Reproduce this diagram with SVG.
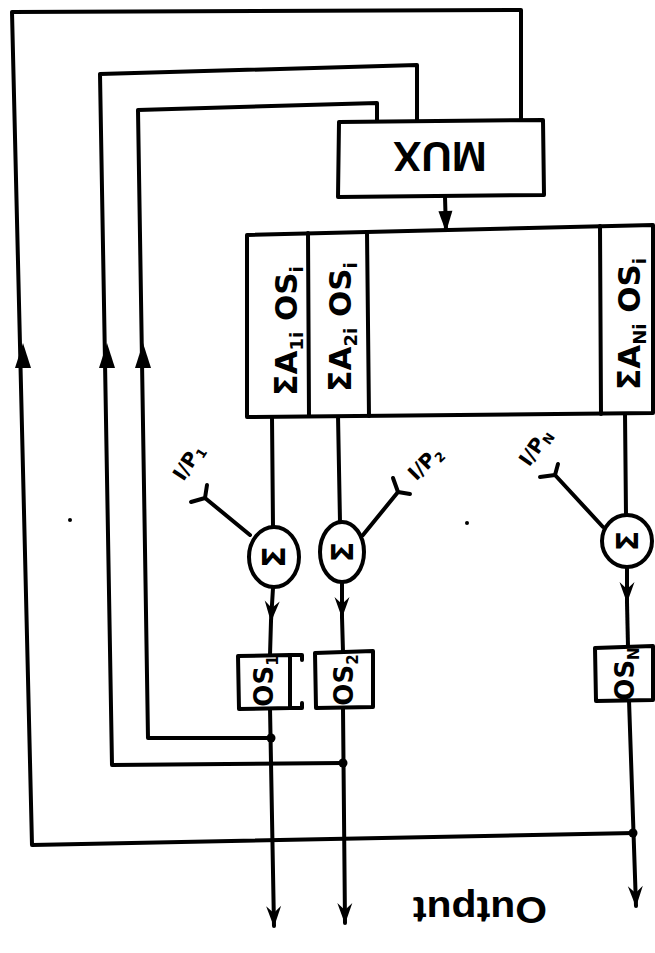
<svg xmlns="http://www.w3.org/2000/svg" width="655" height="953" viewBox="0 0 655 953">
<style>
.ln{fill:none;stroke:#000;stroke-width:4;stroke-linecap:round;stroke-linejoin:round}
.bx{fill:#fff;stroke:#000;stroke-width:4;stroke-linejoin:round}
.t{font-family:"DejaVu Sans","Liberation Sans",sans-serif;font-weight:bold;fill:#000}
.tl{font-family:"Liberation Sans",Arial,sans-serif;font-weight:bold;fill:#000}
.dot{fill:#000}
</style>
<defs>
<marker id="dn" viewBox="-21 -9 23 18" markerWidth="23" markerHeight="18" refX="0" refY="0" orient="auto" markerUnits="userSpaceOnUse">
<path d="M1,0 L-20,-7.5 L-13,0 L-20,7.5 Z" fill="#000"/>
</marker>
<marker id="tri" viewBox="-21 -8 22 16" markerWidth="22" markerHeight="16" refX="0" refY="0" orient="auto" markerUnits="userSpaceOnUse">
<path d="M1,0 L-20,-7 L-20,7 Z" fill="#000"/>
</marker>
</defs>
<rect width="655" height="953" fill="#fff"/>

<g id="connectors">
<!-- feedback loops -->
<polyline class="ln" points="521,120 521,10 12,12 32,845 634,833"/>
<polyline class="ln" points="417,120 417,65 100,74 112,765 343,763"/>
<polyline class="ln" points="377,120 377,103 138,110 148,738 271,738"/>
<!-- up arrows on loops -->
<path d="M23,343 L15,368 L31,368 Z" fill="#000"/>
<path d="M107,343 L99,368 L115,368 Z" fill="#000"/>
<path d="M143,343 L135,368 L151,368 Z" fill="#000"/>
<!-- MUX to table -->
<line class="ln" x1="445" y1="197" x2="446" y2="231" marker-end="url(#tri)"/>
<!-- column 1 -->
<line class="ln" x1="272" y1="417" x2="273" y2="527"/>
<line class="ln" x1="273" y1="588" x2="271" y2="621" marker-end="url(#dn)"/>
<line class="ln" x1="271" y1="621" x2="270" y2="655"/>
<line class="ln" x1="270" y1="708" x2="274" y2="926" marker-end="url(#dn)"/>
<!-- column 2 -->
<line class="ln" x1="338" y1="415" x2="340" y2="522"/>
<line class="ln" x1="342" y1="582" x2="342" y2="617" marker-end="url(#dn)"/>
<line class="ln" x1="342" y1="617" x2="343" y2="652"/>
<line class="ln" x1="343" y1="708" x2="345" y2="923" marker-end="url(#dn)"/>
<!-- column N -->
<line class="ln" x1="625" y1="413" x2="626" y2="515"/>
<line class="ln" x1="627" y1="567" x2="627" y2="602" marker-end="url(#dn)"/>
<line class="ln" x1="627" y1="602" x2="628" y2="647"/>
<line class="ln" x1="629" y1="700" x2="636" y2="906" marker-end="url(#dn)"/>
<!-- junction dots -->
<circle class="dot" cx="271" cy="738" r="4.5"/>
<circle class="dot" cx="343" cy="763" r="4.5"/>
<circle class="dot" cx="633" cy="833" r="4.5"/>
<!-- inputs -->
<polyline class="ln" points="250,535 205,498"/>
<polyline class="ln" points="191,502 205,498 207,485"/>
<polyline class="ln" points="363,535 398,492"/>
<polyline class="ln" points="393,478 398,492 410,494"/>
<polyline class="ln" points="603,527 555,475"/>
<polyline class="ln" points="540,477 555,475 558,464"/>
</g>

<circle class="dot" cx="70" cy="520" r="2"/>
<circle class="dot" cx="467" cy="523" r="2"/>

<g id="mux">
<polygon class="bx" points="339,122 543,120 544,195 338,197"/>
<text class="tl" x="440" y="172" font-size="42" text-anchor="middle" transform="rotate(180 440 157)">MUX</text>
</g>

<g id="table">
<polygon class="bx" points="247,235 653,225 653,413 247,417"/>
<line class="ln" x1="308" y1="233" x2="309" y2="416"/>
<line class="ln" x1="367" y1="232" x2="369" y2="416"/>
<line class="ln" x1="600" y1="226" x2="601" y2="414"/>
<text class="t" x="286" y="342" font-size="31" text-anchor="middle" transform="rotate(-90 286 331)">ΣA<tspan font-size="18" dy="6">1i</tspan><tspan dy="-6"> OS</tspan><tspan font-size="18" dy="6">i</tspan></text>
<text class="t" x="340" y="338" font-size="31" text-anchor="middle" transform="rotate(-90 340 327)">ΣA<tspan font-size="18" dy="6">2i</tspan><tspan dy="-6"> OS</tspan><tspan font-size="18" dy="6">i</tspan></text>
<text class="t" x="629" y="335" font-size="31" text-anchor="middle" transform="rotate(-90 629 324)">ΣA<tspan font-size="18" dy="6">Ni</tspan><tspan dy="-6"> OS</tspan><tspan font-size="18" dy="6">i</tspan></text>
</g>

<g id="sum1">
<ellipse class="bx" cx="274" cy="557" rx="25" ry="30"/>
<text class="t" x="274" y="568" font-size="32" text-anchor="middle" transform="rotate(-90 274 557)">Σ</text>
</g>
<g id="sum2">
<ellipse class="bx" cx="342" cy="552" rx="22" ry="30"/>
<text class="t" x="342" y="563" font-size="30" text-anchor="middle" transform="rotate(-90 342 552)">Σ</text>
</g>
<g id="sumN">
<ellipse class="bx" cx="627" cy="541" rx="25" ry="26"/>
<text class="t" x="627" y="552" font-size="30" text-anchor="middle" transform="rotate(-90 627 541)">Σ</text>
</g>

<g id="ip1">
<text class="t" x="188" y="469" font-size="20" text-anchor="middle" transform="rotate(-57 188 462)">I/P<tspan font-size="13" dy="4">1</tspan></text>
</g>
<g id="ip2">
<text class="t" x="425" y="470" font-size="20" text-anchor="middle" transform="rotate(-45 425 463)">I/P<tspan font-size="13" dy="4">2</tspan></text>
</g>
<g id="ipN">
<text class="t" x="535" y="454" font-size="20" text-anchor="middle" transform="rotate(-55 535 447)">I/P<tspan font-size="13" dy="4">N</tspan></text>
</g>

<g id="os1">
<polygon class="bx" points="238,656 290,655 290,708 239,709"/>
<polyline class="ln" points="290,655 302,655 302,660"/>
<polyline class="ln" points="290,708 302,708 302,703"/>
<text class="t" x="264" y="690" font-size="26" text-anchor="middle" transform="rotate(-90 264 681)">OS<tspan font-size="15" dy="5">1</tspan></text>
</g>
<g id="os2">
<polygon class="bx" points="315,653 373,651 373,707 316,708"/>
<text class="t" x="344" y="689" font-size="26" text-anchor="middle" transform="rotate(-90 344 680)">OS<tspan font-size="15" dy="5">2</tspan></text>
</g>
<g id="osN">
<polygon class="bx" points="595,648 653,646 653,700 596,701"/>
<text class="t" x="625" y="683" font-size="26" text-anchor="middle" transform="rotate(-90 625 674)">OS<tspan font-size="15" dy="5">N</tspan></text>
</g>

<g id="output">
<text class="tl" x="480" y="919" font-size="36" text-anchor="middle" textLength="134" lengthAdjust="spacingAndGlyphs" transform="rotate(180 480 908)">Output</text>
</g>
</svg>
